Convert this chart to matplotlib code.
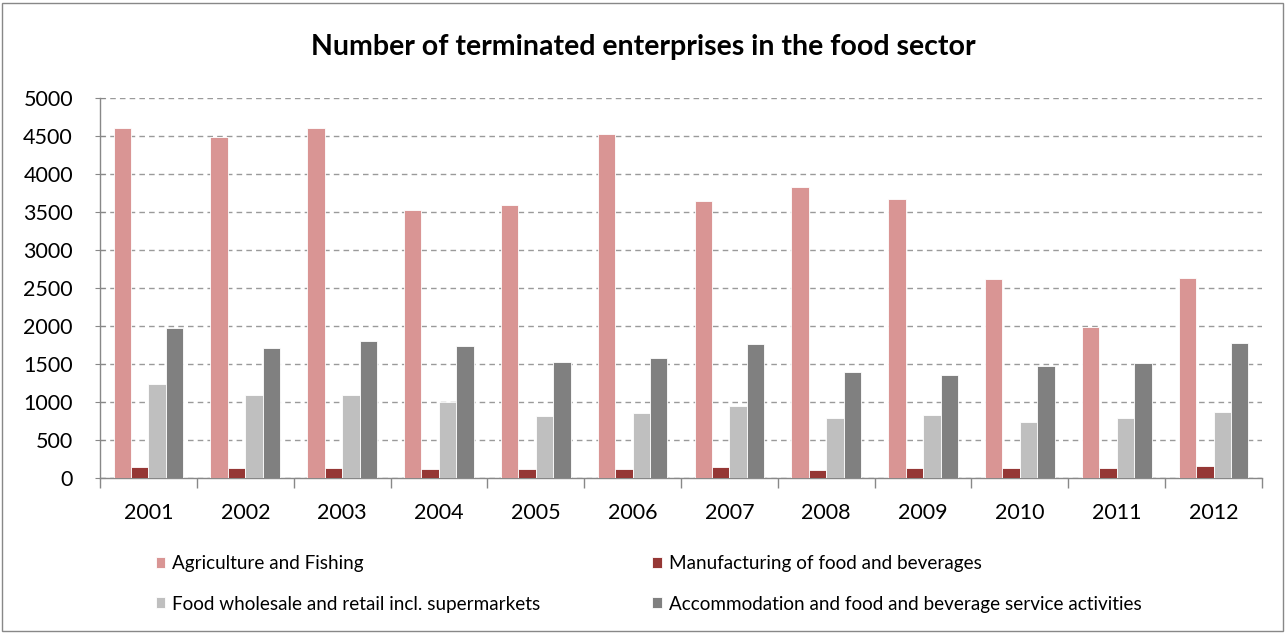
# -*- coding: utf-8 -*-

#importing libraries
import numpy as np
import matplotlib.pyplot as plt
from matplotlib.patches import Rectangle

#data
years = ['2001', '2002', '2003', '2004', '2005', '2006',
         '2007', '2008', '2009', '2010', '2011', '2012']
agriculture = [4600, 4490, 4600, 3525, 3590, 4520, 3645, 3835, 3675, 2615, 1985, 2630]
manufacturing = [150, 130, 130, 118, 118, 118, 150, 100, 130, 130, 130, 163]
wholesale = [1238, 1094, 1094, 1002, 819, 849, 945, 783, 832, 735, 783, 862]
accommodation = [1968, 1711, 1807, 1741, 1531, 1584, 1758, 1400, 1351, 1479, 1509, 1776]

series = [
    ('Agriculture and Fishing', agriculture, '#D99594'),
    ('Manufacturing of food and beverages', manufacturing, '#953735'),
    ('Food wholesale and retail incl. supermarkets', wholesale, '#BFBFBF'),
    ('Accommodation and food and beverage service activities', accommodation, '#808080'),
]

plt.rcParams['font.family'] = ['Lato', 'DejaVu Sans']

fig = plt.figure(figsize=(12.87, 6.33), dpi=100)
ax = fig.add_axes([100 / 1287, 1 - 478 / 633, 1162 / 1287, 380 / 633])

#grouped bars
x = np.arange(len(years))
w = 0.18
for i, (name, vals, col) in enumerate(series):
    ax.bar(x + (i - 1.5) * w, vals, w, color=col, edgecolor='white',
           linewidth=0.6, label=name, zorder=3)

ax.set_xlim(-0.5, len(years) - 0.5)
ax.set_ylim(0, 5000)
ax.set_yticks(np.arange(0, 5001, 500))
ax.set_xticks(x)
ax.set_xticklabels(years)
ax.set_xticks(np.arange(-0.5, len(years)), minor=True)
ax.tick_params(axis='x', which='major', length=0, labelsize=15.5, pad=18, colors='#000000')
ax.tick_params(axis='x', which='minor', length=7, color='#888888', width=1)
ax.tick_params(axis='y', length=7, direction='inout', color='#888888', labelsize=15.5, pad=16)

ax.yaxis.grid(True, linestyle=(0, (4, 3)), color='#9a9a9a', linewidth=1, zorder=0)
for s in ['top', 'right']:
    ax.spines[s].set_visible(False)
for s in ['left', 'bottom']:
    ax.spines[s].set_color('#888888')
    ax.spines[s].set_linewidth(1)

fig.text(0.5, 1 - 47 / 633, 'Number of terminated enterprises in the food sector',
         ha='center', va='center', fontsize=20.5, fontweight='bold')

#legend below the plot
handles, labels = ax.get_legend_handles_labels()
order = [0, 2, 1, 3]
fig.legend([handles[k] for k in order], [labels[k] for k in order],
           loc='center left', bbox_to_anchor=(156 / 1287, 1 - 584 / 633),
           ncol=2, frameon=False, fontsize=13.6, handlelength=0.5, handleheight=0.5,
           handletextpad=0.37, columnspacing=5.9, labelspacing=1.22, borderpad=0,
           borderaxespad=0)

#chart border
fig.patches.append(Rectangle((2 / 1287, 2 / 633), 1281 / 1287, 628 / 633,
                             transform=fig.transFigure, fill=False,
                             edgecolor='#888888', linewidth=1))

plt.savefig('out.png', dpi=100)
